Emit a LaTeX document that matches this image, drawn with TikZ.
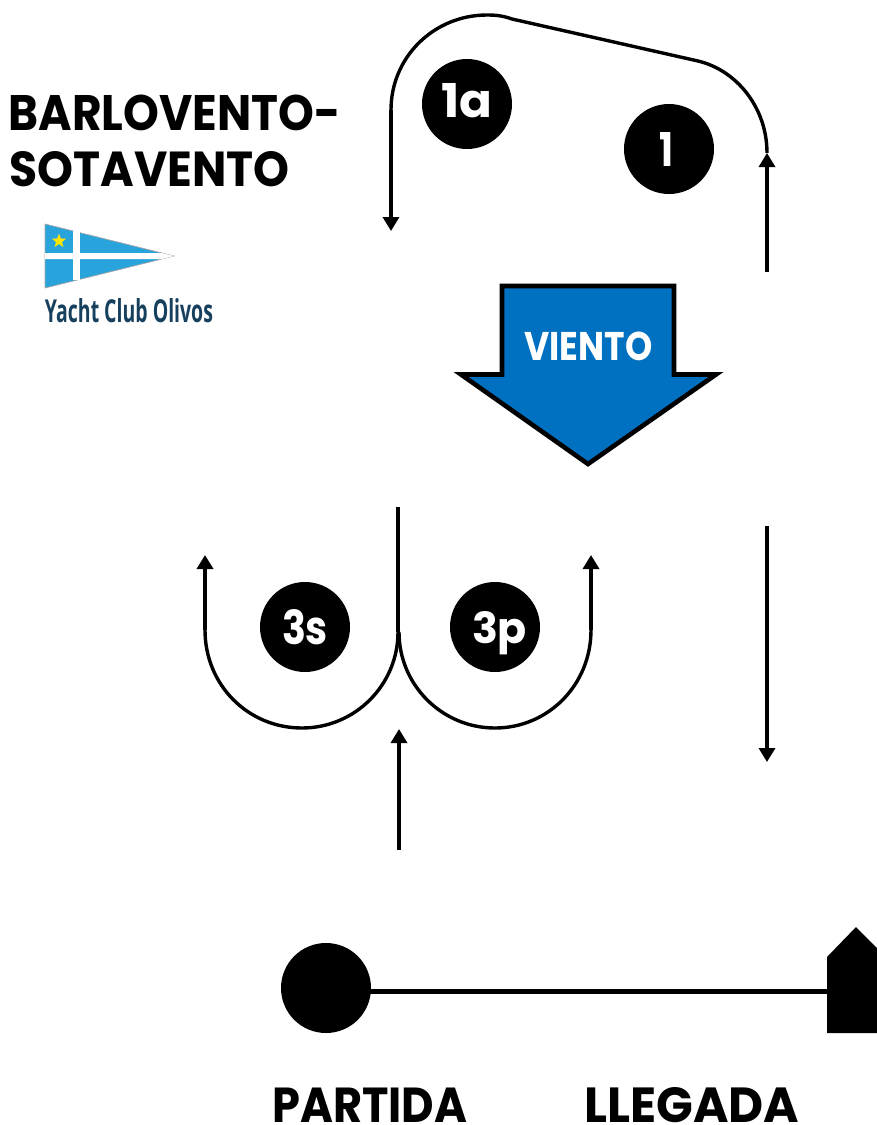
\documentclass[tikz,border=0pt]{standalone}
\usepackage{fontspec}
\usepackage{graphicx}
\setmainfont{Poppins}
\newfontfamily\logofont{Open Sans}
\usetikzlibrary{arrows.meta,shapes.geometric}
\definecolor{windblue}{HTML}{0070C0}
\definecolor{flagblue}{HTML}{29A3DC}
\definecolor{logotext}{HTML}{17405F}
\newcommand{\fitw}[3]{\resizebox{#1pt}{#2pt}{\bfseries #3}}
\tikzset{
  x=1pt,y=-1pt,
  course/.style={draw=black,line width=3.4pt,line cap=butt},
  arrowed/.style={course,-{Triangle[length=14pt,width=16pt]}},
  badge/.style={circle,fill=black,text=white,minimum size=90pt,inner sep=0pt},
  title/.style={anchor=base west,inner sep=0pt},
  caption/.style={anchor=base west,inner sep=0pt},
}
\begin{document}
\begin{tikzpicture}
\useasboundingbox (0,0) rectangle (877,1125);
% titles
\node[title] (t1) at (8.5,130) {\fitw{332}{35.5}{BARLOVENTO-}};
\node[title] (t2) at (9.5,186.5) {\fitw{280}{35}{SOTAVENTO}};
% logo
\fill[flagblue,draw=black!35,line width=.7pt] (45,224) -- (174,256) -- (45,288) -- cycle;
\fill[white] (45,253) -- (162,253) -- (174,256) -- (162,259) -- (45,259) -- cycle;
\fill[white] (73,231) rectangle (80,280);
\node[star,star points=5,star point ratio=2.4,fill=yellow!90!orange,inner sep=0pt,minimum size=15pt] (st) at (59,241) {};
\node[inner sep=0pt,text=logotext] (lg) at (129,310.5) {\resizebox{168pt}{24pt}{\logofont\bfseries Yacht Club Olivos}};
% badges
\node[badge] (b1a) at (467,104) {\raisebox{8pt}{\fitw{51}{34}{1a}}};
\node[badge] (b1) at (669,149) {\fitw{14}{34}{1}\hspace*{6pt}};
\node[badge] (b3s) at (305,627) {\fitw{46}{35}{3s}};
\node[badge] (b3p) at (495,627) {\hspace*{9pt}\raisebox{0pt}[\height][0pt]{\resizebox{55pt}{!}{\bfseries 3p}}};
% leg 1
\coordinate (r0) at (767,272);
\coordinate (r1) at (767,153);
\draw[arrowed] (r0) -- (r1);
\coordinate (a1) at (698,61);
\coordinate (a2) at (512,19);
\coordinate (a3) at (391,110);
\coordinate (a4) at (391,231);
\draw[course] (r1) .. controls (767,107) and (736,70) .. (a1) -- (a2)
  .. controls (503,15.8) and (496,15) .. (487,15)
  .. controls (434,15) and (391,57) .. (a3);
\draw[arrowed] (a3) -- (a4);
% wind
\draw[draw=black,fill=windblue,line width=4.6pt,miter limit=10]
  (502,286) -- (674,286) -- (674,374.5) -- (716,374.5) -- (588,464) -- (461,374.5) -- (502,374.5) -- cycle;
\node[inner sep=0pt,text=white,anchor=base west] (wt) at (524,360.5) {\resizebox{128pt}{28.5pt}{\bfseries VIENTO}};
% gates
\coordinate (g0) at (398,507);
\coordinate (g1) at (398,632);
\draw[course] (g0) -- (g1);
\coordinate (lt) at (205,630);
\coordinate (le) at (205,555);
\coordinate (rt) at (591,630);
\coordinate (re) at (591,555);
\coordinate (g2) at (399,632);
\draw[course] (g1) .. controls (398,685) and (355,728) .. (302,728)
  .. controls (248,728) and (205,685) .. (lt);
\draw[arrowed] (lt) -- (le);
\draw[course] (g2) .. controls (399,685) and (442,728) .. (495,728)
  .. controls (548,728) and (591,685) .. (rt);
\draw[arrowed] (rt) -- (re);
\coordinate (u0) at (399,850);
\coordinate (u1) at (399,729);
\draw[arrowed] (u0) -- (u1);
\coordinate (d0) at (767,526);
\coordinate (d1) at (767,762);
\draw[arrowed] (d0) -- (d1);
% line
\node[circle,fill=black,minimum size=90pt,inner sep=0pt] (pin) at (326,988) {};
\fill[black] (827,1033) -- (827,957) -- (856,927) -- (877,948) -- (877,1033) -- cycle;
\coordinate (boat) at (827,991);
\draw[line width=5pt] (pin |- boat) -- (boat);
\node[caption] (p) at (272,1122) {\fitw{195}{34.5}{PARTIDA}};
\node[caption] (l) at (584,1122) {\fitw{215}{35}{LLEGADA}};
\end{tikzpicture}
\end{document}
